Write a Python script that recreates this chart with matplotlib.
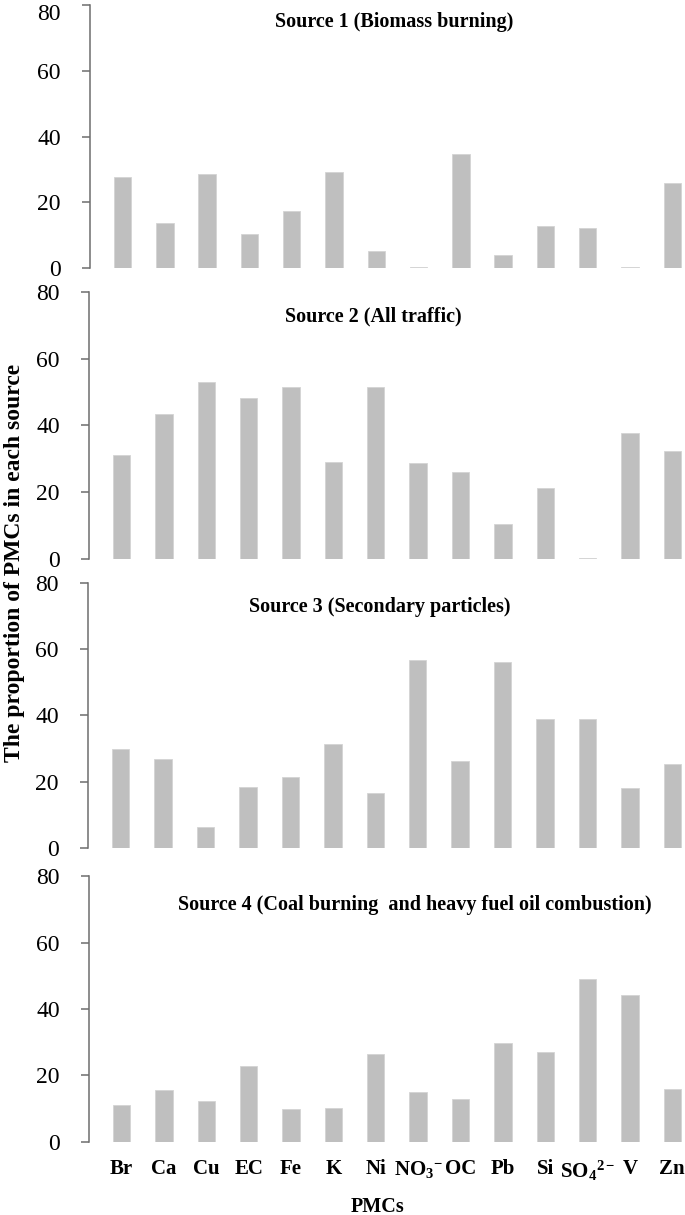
import matplotlib
matplotlib.use("Agg")
from matplotlib import pyplot as plt
from matplotlib.transforms import ScaledTranslation
import numpy as np

# PMC categories along the x axis
pmcs = ["Br", "Ca", "Cu", "EC", "Fe", "K", "Ni", r"NO$_3$$^{-}$", "OC", "Pb", "Si",
        r"SO$_4$$^{2-}$", "V", "Zn"]

# proportion (%) of each PMC in each source
source1 = [27.8, 13.8, 28.5, 10.4, 17.3, 29.3, 5.3, 0.3, 34.7, 3.9, 12.7, 12.1, 0.3, 25.9]
source2 = [31.2, 43.5, 52.9, 48.1, 51.6, 29.2, 51.6, 28.8, 26.2, 10.4, 21.3, 0.2, 37.7, 32.5]
source3 = [29.8, 27.0, 6.3, 18.5, 21.3, 31.4, 16.5, 56.8, 26.4, 56.1, 39.0, 39.0, 18.2, 25.4]
source4 = [11.2, 15.6, 12.3, 22.8, 9.9, 10.3, 26.6, 14.9, 12.9, 29.8, 27.0, 49.0, 44.1, 16.0]

titles = ["Source 1 (Biomass burning)",
          "Source 2 (All traffic)",
          "Source 3 (Secondary particles)",
          "Source 4 (Coal burning  and heavy fuel oil combustion)"]
yticks = [0, 20, 40, 60, 80]

plt.rcParams['font.family'] = ['Liberation Serif', 'DejaVu Serif']
plt.rcParams['mathtext.fontset'] = 'custom'
plt.rcParams['mathtext.rm'] = 'Liberation Serif:bold'
plt.rcParams['mathtext.it'] = 'Liberation Serif:bold'
plt.rcParams['mathtext.bf'] = 'Liberation Serif:bold'

fig = plt.figure(figsize=(6.85, 12.15), dpi=100)

# axes boxes in figure fractions: left, bottom, width, height
boxes = [(0.1314, 0.7794, 0.8686, 0.2165),
         (0.1300, 0.5399, 0.8700, 0.2198),
         (0.1285, 0.3021, 0.8715, 0.2181),
         (0.1300, 0.0601, 0.8700, 0.2189)]
title_x = [0.511, 0.477, 0.489, 0.546]
title_y = [0.935, 0.91, 0.91, 0.892]

spine_col = '#6e6e6e'
bar_col = '#bfbfbf'
x = np.arange(len(pmcs))

for i, vals in enumerate([source1, source2, source3, source4]):
    ax = fig.add_axes(boxes[i])
    ax.bar(x, vals, width=0.41, color=bar_col, edgecolor='#d4d4d4', linewidth=0.6)
    ax.set_xlim(-0.77, 13.3)
    ax.set_ylim(0, 80)
    ax.set_yticks(yticks)
    ax.tick_params(axis='y', direction='out', length=6, width=1.1, color=spine_col,
                   labelsize=17, pad=15)
    for s in ['top', 'right', 'bottom']:
        ax.spines[s].set_visible(False)
    ax.spines['left'].set_color(spine_col)
    ax.spines['left'].set_linewidth(1.1)
    ax.text(title_x[i], title_y[i], titles[i], transform=ax.transAxes,
            ha='center', va='center', fontsize=14.5, fontweight='bold')
    if i == 0:
        # top label sits at the very edge of the figure, nudge it down a bit
        top = ax.get_yticklabels()[-1]
        top.set_transform(top.get_transform() + ScaledTranslation(0, -5 / 72, fig.dpi_scale_trans))
    if i == 3:
        ax.set_xticks(x)
        ax.set_xticklabels(pmcs, fontsize=15, fontweight='bold')
        ax.tick_params(axis='x', length=0, pad=12)
    else:
        ax.set_xticks([])

fig.text(378 / 685, 8 / 1215, "PMCs", ha='center', va='center',
         fontsize=14.5, fontweight='bold')
fig.text(0.021, 0.537, "The proportion of PMCs in each source", rotation=90,
         ha='center', va='center', fontsize=17, fontweight='bold')

fig.savefig("out.png", dpi=100)
